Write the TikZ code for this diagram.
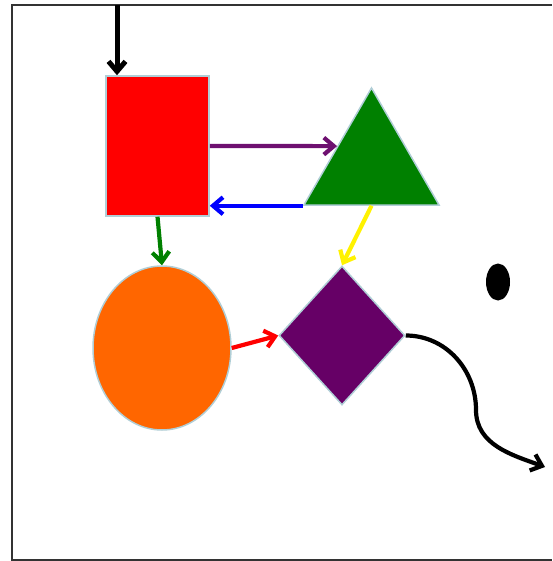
\documentclass[tikz,border=0pt]{standalone}
\usepackage{tikz}
\usetikzlibrary{arrows.meta,shapes.geometric,calc}
\definecolor{edgeblue}{RGB}{176,206,214}
\definecolor{plum}{RGB}{102,0,102}
\definecolor{arrowplum}{RGB}{110,16,112}
\definecolor{leaf}{RGB}{0,128,0}
\definecolor{tangerine}{RGB}{255,102,0}
\tikzset{
  shp/.style={draw=edgeblue, line width=1.5pt, inner sep=0pt},
  blockshape/.style={shp, rectangle, fill=red, minimum width=103pt, minimum height=140pt},
  triangshape/.style={shp, regular polygon, regular polygon sides=3, fill=leaf, minimum size=156pt},
  ovalshape/.style={shp, ellipse, fill=tangerine, minimum width=138pt, minimum height=164pt},
  gemshape/.style={shp, diamond, fill=plum, minimum width=126pt, minimum height=139pt},
  dotshape/.style={ellipse, fill=black, inner sep=0pt, minimum width=24pt, minimum height=37pt},
  flow/.style={-{Straight Barb[length=10pt, width=17pt]}, line width=4.2pt},
  frame/.style={draw=black!80, line width=2pt},
}
\begin{document}
\begin{tikzpicture}[x=1pt, y=-1pt]
  \useasboundingbox (0,0) rectangle (552,561);
  \draw[frame] (552,5) -| (12,560) -- (552,560);
  \node[blockshape]  (block) at (157.5,146) {};
  \node[triangshape] (tri)   at (371.5,166) {};
  \node[ovalshape]   (oval)  at (162,348) {};
  \node[gemshape]    (gem)   at (342,335.5) {};
  \node[dotshape]    (dot)   at (498,282) {};
  \coordinate (start) at (117,5);
  \coordinate (bend) at (476,410);
  \coordinate (finish) at (545,467);
  \draw[flow, line width=5pt] (start) -- (start |- block.north);
  \draw[flow, arrowplum] (block.east) -- ($(tri.corner 1)!0.5!(tri.corner 2)$);
  \draw[flow, blue] (tri.corner 2) -- (block.east |- tri.corner 2);
  \draw[flow, leaf] (block.south) -- (oval.north);
  \draw[flow, yellow] ($(tri.corner 2)!0.5!(tri.corner 3)$) -- (gem.north);
  \draw[flow, red] (oval.east) -- (gem.west);
  \draw[flow, black] (gem.east) to[out=0, in=90] (bend) to[out=-90, in=160] (finish);
\end{tikzpicture}
\end{document}
